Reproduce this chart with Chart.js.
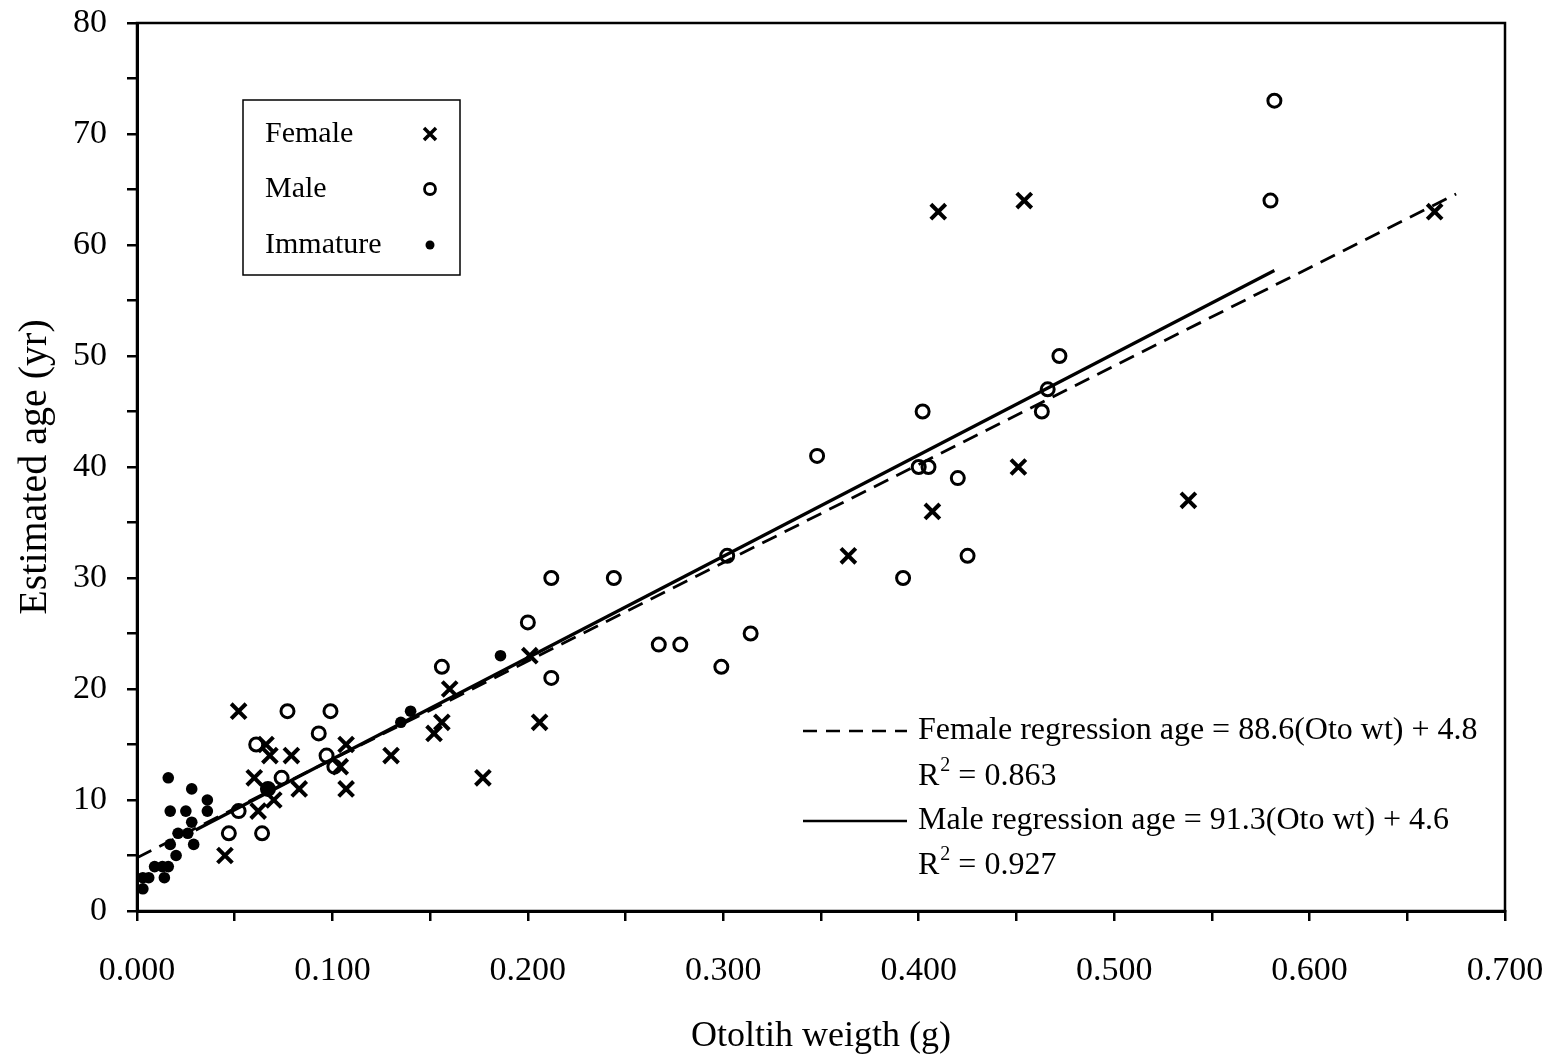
<!DOCTYPE html>
<html>
<head>
<meta charset="utf-8">
<script src="https://cdn.jsdelivr.net/npm/chart.js@4"></script>
<style>
  html, body { margin: 0; padding: 0; background: #fff; }
  #wrap { width: 1556px; height: 1060px; position: relative; }
</style>
</head>
<body>
<div id="wrap"><canvas id="c" width="1556" height="1060"></canvas></div>
<script>
// ---- Data ----
const femaleX = [0.045, 0.052, 0.060, 0.062, 0.066, 0.068, 0.070, 0.079, 0.083, 0.104, 0.107, 0.107, 0.130, 0.152, 0.156, 0.160, 0.177, 0.201, 0.206, 0.364, 0.407, 0.410, 0.451, 0.454, 0.538, 0.664];
const femaleY = [5, 18, 12, 9, 15, 14, 10, 14, 11, 13, 15, 11, 14, 16, 17, 20, 12, 23, 17, 32, 36, 63, 40, 64, 37, 63];

const maleX = [0.047, 0.052, 0.061, 0.064, 0.067, 0.074, 0.077, 0.093, 0.097, 0.099, 0.101, 0.156, 0.200, 0.212, 0.212, 0.244, 0.267, 0.278, 0.299, 0.302, 0.314, 0.348, 0.392, 0.400, 0.402, 0.405, 0.420, 0.425, 0.463, 0.466, 0.472, 0.580, 0.582];
const maleY = [7, 9, 15, 7, 11, 12, 18, 16, 14, 18, 13, 22, 26, 30, 21, 30, 24, 24, 22, 32, 25, 41, 30, 40, 45, 40, 39, 32, 45, 47, 50, 64, 73];

const immX = [0.003, 0.003, 0.006, 0.009, 0.013, 0.014, 0.016, 0.016, 0.017, 0.017, 0.020, 0.021, 0.025, 0.026, 0.028, 0.028, 0.029, 0.036, 0.036, 0.067, 0.135, 0.140, 0.186];
const immY = [2, 3, 3, 4, 4, 3, 4, 12, 9, 6, 5, 7, 9, 7, 11, 8, 6, 10, 9, 11, 17, 18, 23];

// Regression lines (end points)
const femaleLineX = [0.000, 0.675];
const femaleLineY = [4.8, 64.6];
const maleLineX = [0.030, 0.582];
const maleLineY = [7.3, 57.7];

const xTickLabels = ['0.000', '0.100', '0.200', '0.300', '0.400', '0.500', '0.600', '0.700'];
const yTickLabels = ['0', '10', '20', '30', '40', '50', '60', '70', '80'];

const legendNames = ['Female', 'Male', 'Immature'];
const femaleEq = 'Female regression age = 88.6(Oto wt) + 4.8';
const femaleR2 = '0.863';
const maleEq = 'Male regression age = 91.3(Oto wt) + 4.6';
const maleR2 = '0.927';
const xTitle = 'Otoltih weigth (g)';
const yTitle = 'Estimated age (yr)';

const pts = (xs, ys) => xs.map((x, i) => ({ x: x, y: ys[i] }));
const FONT = '"Liberation Serif", "Times New Roman", serif';

const frame = {
  id: 'frame',
  afterDraw(chart) {
    const { ctx, chartArea: a } = chart;
    ctx.save();
    ctx.strokeStyle = '#000';
    ctx.lineWidth = 2.5;
    ctx.strokeRect(a.left, a.top, a.right - a.left, a.bottom - a.top);

    // series legend box
    ctx.lineWidth = 1.5;
    ctx.strokeRect(243, 100, 217, 175);
    ctx.fillStyle = '#000';
    ctx.font = '30px ' + FONT;
    ctx.textBaseline = 'middle';
    ctx.textAlign = 'left';
    const rows = [134, 189, 245];
    legendNames.forEach((n, i) => ctx.fillText(n, 265, rows[i]));
    ctx.lineWidth = 3.5;
    ctx.beginPath();
    ctx.moveTo(424, rows[0] - 6); ctx.lineTo(436, rows[0] + 6);
    ctx.moveTo(436, rows[0] - 6); ctx.lineTo(424, rows[0] + 6);
    ctx.stroke();
    ctx.lineWidth = 2.8;
    ctx.beginPath(); ctx.arc(430, rows[1], 5.5, 0, Math.PI * 2); ctx.stroke();
    ctx.beginPath(); ctx.arc(430, rows[2], 4.5, 0, Math.PI * 2); ctx.fill();

    // regression legend
    ctx.font = '32px ' + FONT;
    ctx.lineWidth = 2.5;
    ctx.setLineDash([14, 9]);
    ctx.beginPath(); ctx.moveTo(803, 731); ctx.lineTo(907, 731); ctx.stroke();
    ctx.setLineDash([]);
    ctx.beginPath(); ctx.moveTo(803, 821); ctx.lineTo(907, 821); ctx.stroke();
    ctx.fillText(femaleEq, 918, 731);
    ctx.fillText(maleEq, 918, 821);
    const drawR2 = (val, y) => {
      ctx.font = '32px ' + FONT;
      ctx.fillText('R', 918, y);
      const w = ctx.measureText('R').width;
      ctx.font = '20px ' + FONT;
      ctx.fillText('2', 918 + w + 1, y - 11);
      const w2 = ctx.measureText('2').width;
      ctx.font = '32px ' + FONT;
      ctx.fillText(' = ' + val, 918 + w + w2 + 1, y);
    };
    drawR2(femaleR2, 777);
    drawR2(maleR2, 866);
    ctx.restore();
  }
};

new Chart(document.getElementById('c'), {
  type: 'scatter',
  data: {
    datasets: [
      { label: 'Female regression', type: 'line', data: pts(femaleLineX, femaleLineY), borderColor: '#000', borderWidth: 2.8, borderDash: [16, 9], pointRadius: 0, fill: false },
      { label: 'Male regression', type: 'line', data: pts(maleLineX, maleLineY), borderColor: '#000', borderWidth: 3.2, pointRadius: 0, fill: false },
      { label: 'Female', data: pts(femaleX, femaleY), pointStyle: 'crossRot', pointRadius: 10.5, borderColor: '#000', borderWidth: 4, backgroundColor: '#000' },
      { label: 'Male', data: pts(maleX, maleY), pointStyle: 'circle', pointRadius: 6.5, borderColor: '#000', borderWidth: 3, backgroundColor: 'rgba(0,0,0,0)' },
      { label: 'Immature', data: pts(immX, immY), pointStyle: 'circle', pointRadius: 5.8, borderColor: '#000', borderWidth: 0, backgroundColor: '#000' }
    ]
  },
  options: {
    responsive: false,
    animation: false,
    layout: { padding: { top: 23, right: 51, left: 0, bottom: 0 } },
    plugins: { legend: { display: false }, tooltip: { enabled: false } },
    scales: {
      x: {
        type: 'linear', min: 0, max: 0.7,
        afterFit: s => { s.height = 149; s.paddingLeft = 0; s.paddingRight = 0; },
        afterBuildTicks: s => { const t = []; for (let i = 0; i <= 14; i++) t.push({ value: i * 0.05 }); s.ticks = t; },
        ticks: {
          autoSkip: false, maxRotation: 0, color: '#000', padding: 30,
          font: { family: FONT, size: 34 },
          callback: (v, i) => (i % 2 === 0 ? xTickLabels[i / 2] : '')
        },
        grid: { drawOnChartArea: false, drawTicks: true, tickLength: 10, color: '#000', lineWidth: 2.5 },
        border: { display: true, color: '#000', width: 3 },
        title: { display: true, text: xTitle, color: '#000', font: { family: FONT, size: 36 }, padding: { top: 0, bottom: 2 } }
      },
      y: {
        type: 'linear', min: 0, max: 80,
        afterFit: s => { s.width = 137; s.paddingTop = 0; s.paddingBottom = 0; },
        afterBuildTicks: s => { const t = []; for (let i = 0; i <= 16; i++) t.push({ value: i * 5 }); s.ticks = t; },
        ticks: {
          autoSkip: false, color: '#000', padding: 20,
          font: { family: FONT, size: 34 },
          callback: (v, i) => (i % 2 === 0 ? yTickLabels[i / 2] : '')
        },
        grid: { drawOnChartArea: false, drawTicks: true, tickLength: 10, color: '#000', lineWidth: 2.5 },
        border: { display: true, color: '#000', width: 3 },
        title: { display: true, text: yTitle, color: '#000', font: { family: FONT, size: 40 }, padding: { top: 11, bottom: 0 } }
      }
    }
  },
  plugins: [frame]
});
</script>
</body>
</html>
